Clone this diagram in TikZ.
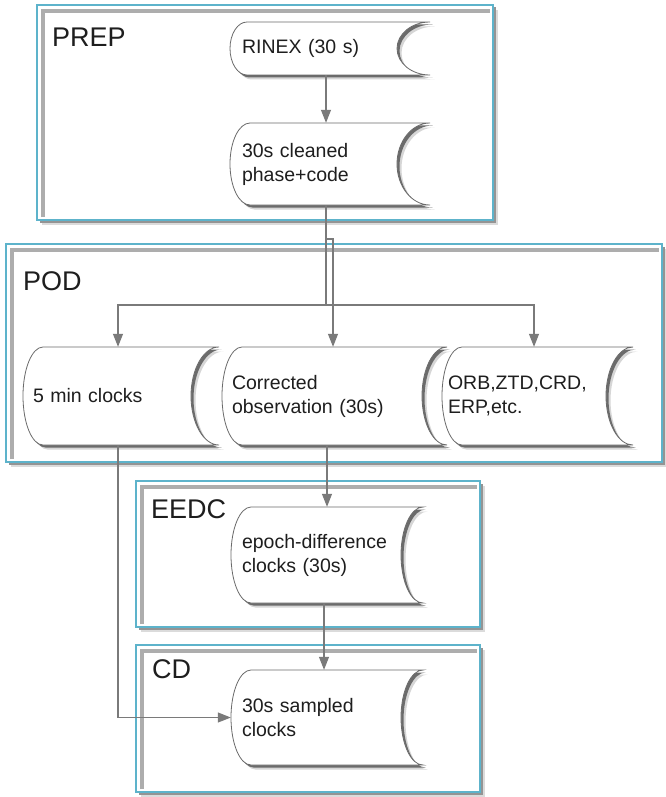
\documentclass[tikz,border=0pt]{standalone}
\usepackage{fontspec}
\setmainfont{Liberation Sans}
\usetikzlibrary{arrows.meta}
\definecolor{boxcyan}{HTML}{5DB3CB}
\definecolor{sdgray}{HTML}{6A6A6A}
\definecolor{conngray}{HTML}{7A7A7A}
\definecolor{txt}{HTML}{1E1E1E}

% stored-data outline: #1 options, #2 L, #3 T, #4 R, #5 B, #6 left depth, #7 right depth
\newcommand{\sdshape}[7]{%
  \path[#1] ({#2+#6},#3) -- (#4,#3)
    .. controls ({#4-0.552*#7},#3) and ({#4-#7},{\sdM-\sdK}) .. ({#4-#7},\sdM)
    .. controls ({#4-#7},{\sdM+\sdK}) and ({#4-0.552*#7},#5) .. (#4,#5)
    -- ({#2+#6},#5)
    .. controls ({#2+0.448*#6},#5) and (#2,{\sdM+\sdK}) .. (#2,\sdM)
    .. controls (#2,{\sdM-\sdK}) and ({#2+0.448*#6},#3) .. cycle;
}
% #1 name, #2 L, #3 T, #4 R, #5 B, #6 left depth, #7 right depth, #8 text margin, #9 text
\newcommand{\storeddata}[9]{%
  \pgfmathsetmacro\sdM{(#3+#5)/2}%
  \pgfmathsetmacro\sdK{0.552*(#5-#3)/2}%
  \pgfmathsetmacro\sdX{(#2+#4)/2}%
  \pgfmathsetmacro\sdW{#4-#2}%
  \pgfmathsetmacro\sdH{#5-#3}%
  \pgfmathsetmacro\sdTW{#4-#2-2*#8}%
  \sdshape{fill=black!16,shift={(4.5,4.5)}}{#2}{#3}{#4}{#5}{#6}{#7}
  \sdshape{fill=black!58,shift={(2.5,2.5)}}{#2}{#3}{#4}{#5}{#6}{#7}
  \sdshape{draw=sdgray,fill=white,line width=0.8pt}{#2}{#3}{#4}{#5}{#6}{#7}
  \node[sdtext, inner xsep=#8 pt, minimum width=\sdW pt, minimum height=\sdH pt,
        text width=\sdTW pt] (#1) at (\sdX,\sdM) {#9};
}
% #1 name, #2 L, #3 T, #4 R, #5 B, #6 label, #7 label x, #8 label baseline
\newcommand{\stagebox}[8]{%
  \fill[black!14] ({#2+5},{#3+5}) rectangle ({#4+5},{#5+5});
  \fill[black!42] ({#2+2.5},{#3+2.5}) rectangle ({#4+2.5},{#5+2.5});
  \node[draw=boxcyan, line width=1.3pt, fill=white, inner sep=0pt,
        minimum width={#4-#2}, minimum height={#5-#3}]
        (#1) at ({(#2+#4)/2},{(#3+#5)/2}) {};
  \draw[black!32, line width=3.5pt] ({#2+6},{#5-3}) -- ({#2+6},{#3+6}) -- ({#4-3},{#3+6});
  \node[lab, anchor=base west] (#1-lab) at (#7,#8) {#6};
}

\begin{document}
\begin{tikzpicture}[x=1pt,y=-1pt,
  conn/.style={draw=conngray,line width=1.2pt},
  arr/.style={-{Triangle[length=13pt,width=10pt]}},
  sdtext/.style={font=\fontsize{19.5}{24}\selectfont, text=txt, align=left, inner ysep=0pt},
  lab/.style={font=\fontsize{27}{30}\selectfont, text=txt, inner sep=0pt}]
\useasboundingbox[fill=white] (0,0) rectangle (665,797);

% stage boxes
\stagebox{prep}{37}{5}{493}{220}{PREP}{52}{47}
\stagebox{pod}{6}{244}{662}{462}{POD}{23}{290}
\stagebox{eedc}{136}{481}{480}{627}{EEDC}{151}{518}
\stagebox{cd}{136}{645}{480}{792}{CD}{152}{678}

% junction coordinates
\coordinate (split) at (326,305);
\coordinate (hopA) at (326,239);
\coordinate (hopB) at (333,239);

% data stores
\storeddata{rinex}{230}{22}{430}{75}{17}{33}{12}{RINEX (30 s)}
\storeddata{cleaned}{230}{123}{430}{205}{20}{33}{12}{30s cleaned\\phase+code}
\storeddata{fivemin}{23}{347}{219}{445}{20}{28}{10}{5 min clocks}
\storeddata{corrected}{222}{347}{447}{445}{20}{25}{10}{Corrected\\observation (30s)}
\storeddata{orb}{442}{347}{633}{445}{20}{27}{6}{ORB,ZTD,CRD,\\ERP,etc.}
\storeddata{epoch}{231}{507}{423}{603}{20}{22}{11}{epoch-difference\\clocks (30s)}
\storeddata{sampled}{231}{670}{423}{765}{20}{22}{11}{30s sampled\\clocks}

% connectors
\draw[conn,arr] ([xshift=-4pt]rinex.south) -- ([xshift=-4pt]cleaned.north);
\draw[conn] ([xshift=-4pt]cleaned.south) -- (split);
\draw[conn,arr] (split) -| ([xshift=-3pt]fivemin.north);
\draw[conn,arr] (split) -| ([xshift=-3.5pt]orb.north);
\draw[conn,arr] (hopA) -- (hopB) -- (hopB |- corrected.north);
\draw[conn,arr] (epoch.north |- corrected.south) -- (epoch.north);
\draw[conn,arr] ([xshift=-3pt]epoch.south) -- ([xshift=-3pt]sampled.north);
\draw[conn,arr] ([xshift=-3pt]fivemin.south) |- (sampled.west);
\end{tikzpicture}
\end{document}
